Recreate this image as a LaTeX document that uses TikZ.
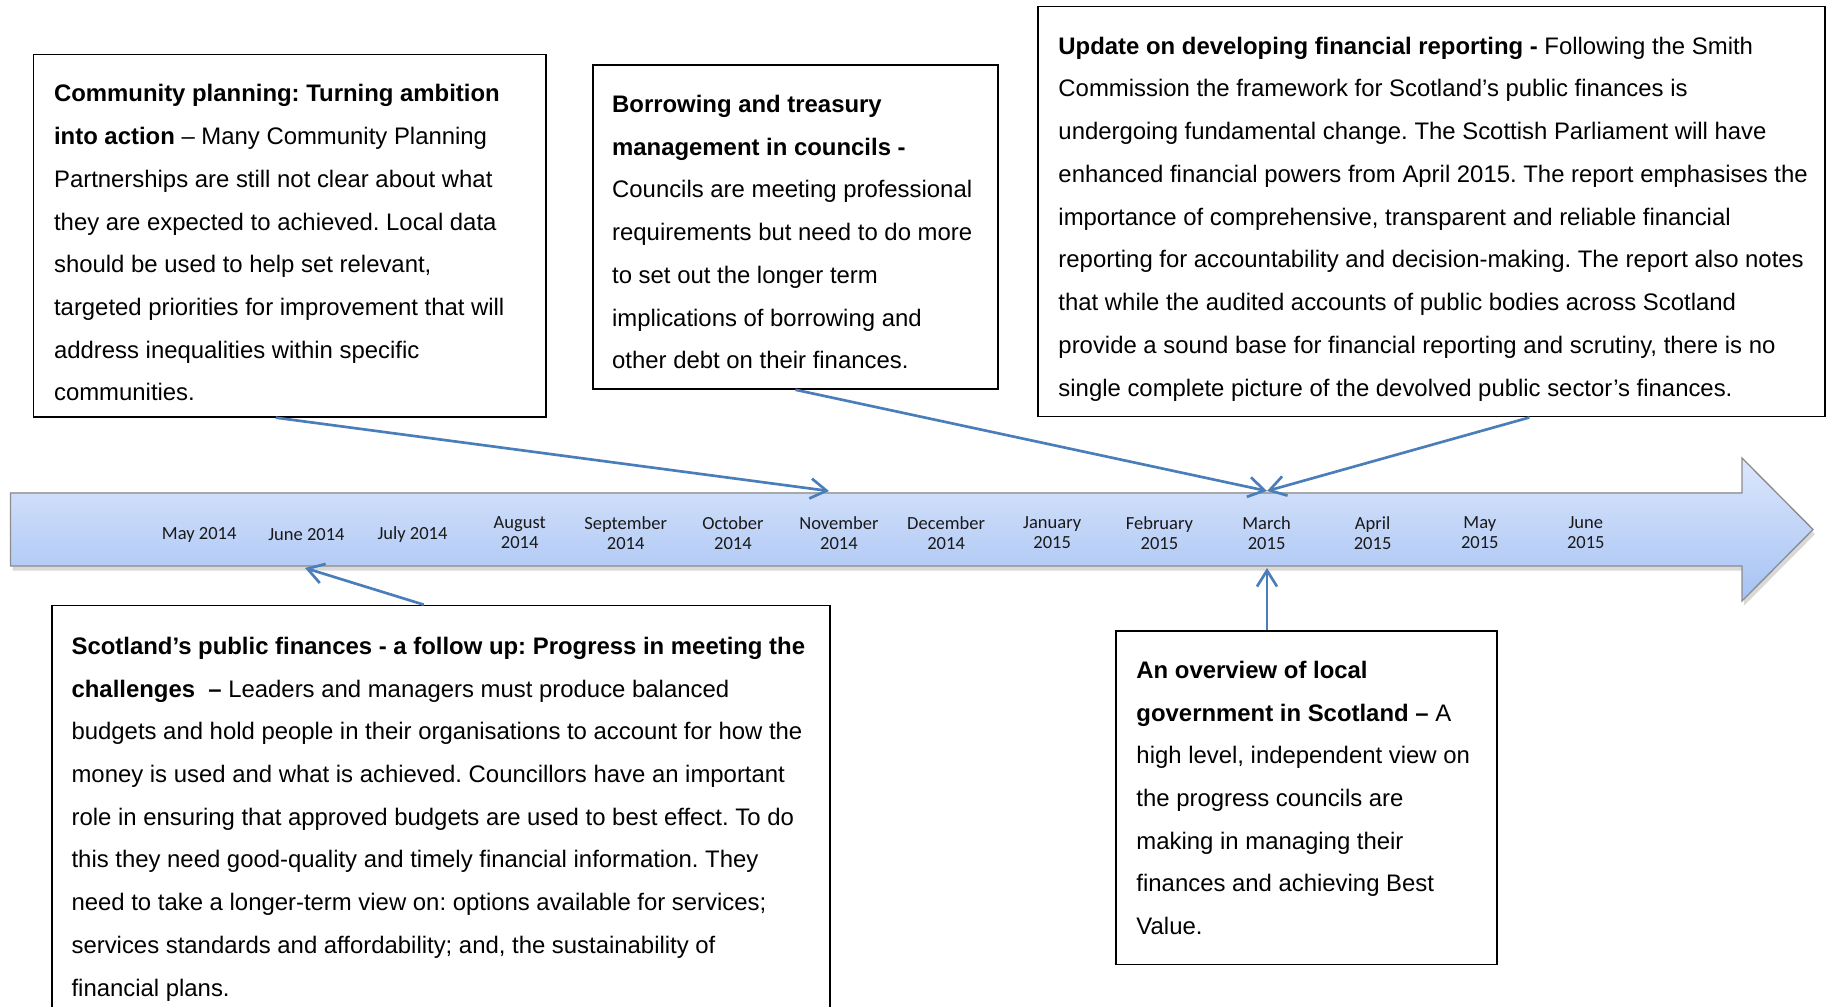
\documentclass[tikz,border=0pt]{standalone}
\usepackage{fontspec}
\setmainfont{Liberation Sans}
\newfontfamily\calib{Carlito}
\usetikzlibrary{arrows.meta,shadows}
\frenchspacing

\definecolor{tlTop}{HTML}{DCE7FB}
\definecolor{tlBot}{HTML}{A6C2F4}
\definecolor{tlEdge}{HTML}{8C8C8C}
\definecolor{lnBlue}{HTML}{4A7EBB}

\begin{document}
\begin{tikzpicture}[x=0.15mm,y=-0.15mm,
    box/.style={draw=black, line width=0.25mm, anchor=north west, inner sep=0pt},
    txt/.style={anchor=north west, inner sep=0pt, align=left, font=\fontsize{10.2}{18.24}\selectfont},
    month/.style={align=center, inner sep=0pt, text=black!90, font=\calib\fontsize{7.9}{8.45}\selectfont},
    link/.style={draw=lnBlue, line width=0.4mm, -{Straight Barb[length=2.4mm,width=3mm]}}]
    \useasboundingbox (0,0) rectangle (1827,1007);

    % the timeline
    \filldraw[top color=tlTop, bottom color=tlBot, draw=tlEdge, line width=0.2mm,
        drop shadow={shadow xshift=0.3mm, shadow yshift=-0.7mm, opacity=0.3}]
        (10.5,493) -- (1742,493) -- (1742,458) -- (1813,529.5) -- (1742,601)
        -- (1742,566) -- (10.5,566) -- cycle;

    \node[month] (m1) at (199.2,535) {May 2014};
    \node[month] (m2) at (306.4,535) {June 2014};
    \node[month] (m3) at (412.5,535) {July 2014};
    \node[month] (m4) at (519.7,533) {August\\2014};
    \node[month] (m5) at (625.7,533) {September\\2014};
    \node[month] (m6) at (732.9,533) {October\\2014};
    \node[month] (m7) at (838.9,533) {November\\2014};
    \node[month] (m8) at (946.1,533) {December\\2014};
    \node[month] (m9) at (1052.2,533) {January\\2015};
    \node[month] (m10) at (1159.4,533) {February\\2015};
    \node[month] (m11) at (1266.6,533) {March\\2015};
    \node[month] (m12) at (1372.6,533) {April\\2015};
    \node[month] (m13) at (1479.8,533) {May\\2015};
    \node[month] (m14) at (1585.8,533) {June\\2015};

    \coordinate (nov top) at (829,491);
    \coordinate (mar top) at (1267,491);
    \coordinate (jun bot) at (305,568);
    \coordinate (mar bot) at (1267,568);

    % report boxes
    \node[box, minimum width=76.9mm, minimum height=54.36mm] (cp) at (32.6,53.6) {};
    \node[txt] (cp text) at (53.6,84) {\textbf{Community planning: Turning ambition}\\
        \textbf{into action} – Many Community Planning\\
        Partnerships are still not clear about what\\
        they are expected to achieved. Local data\\
        should be used to help set relevant,\\
        targeted priorities for improvement that will\\
        address inequalities within specific\\
        communities.};

    \node[box, minimum width=60.8mm, minimum height=48.6mm] (bt) at (591.9,64.1) {};
    \node[txt] (bt text) at (611.7,94.7) {\textbf{Borrowing and treasury}\\
        \textbf{management in councils -}\\
        Councils are meeting professional\\
        requirements but need to do more\\
        to set out the longer term\\
        implications of borrowing and\\
        other debt on their finances.};

    \node[box, minimum width=118.05mm, minimum height=61.5mm] (up) at (1037,5.8) {};
    \node[txt] (up text) at (1058,36.4) {\textbf{Update on developing financial reporting -} Following the Smith\\
        Commission the framework for Scotland’s public finances is\\
        undergoing fundamental change. The Scottish Parliament will have\\
        enhanced financial powers from April 2015. The report emphasises the\\
        importance of comprehensive, transparent and reliable financial\\
        reporting for accountability and decision-making. The report also notes\\
        that while the audited accounts of public bodies across Scotland\\
        provide a sound base for financial reporting and scrutiny, there is no\\
        single complete picture of the devolved public sector’s finances.};

    \node[box, minimum width=116.7mm, minimum height=63.8mm] (sp) at (51.3,604.7) {};
    \node[txt] (sp text) at (71.1,636.5) {\textbf{Scotland’s public finances - a follow up: Progress in meeting the}\\
        \textbf{challenges\ \ –} Leaders and managers must produce balanced\\
        budgets and hold people in their organisations to account for how the\\
        money is used and what is achieved. Councillors have an important\\
        role in ensuring that approved budgets are used to best effect. To do\\
        this they need good-quality and timely financial information. They\\
        need to take a longer-term view on: options available for services;\\
        services standards and affordability; and, the sustainability of\\
        financial plans.};

    \node[box, minimum width=57.15mm, minimum height=50mm] (ov) at (1115,630.4) {};
    \node[txt] (ov text) at (1136,660.5) {\textbf{An overview of local}\\
        \textbf{government in Scotland –} A\\
        high level, independent view on\\
        the progress councils are\\
        making in managing their\\
        finances and achieving Best\\
        Value.};

    % links to the timeline
    \draw[link] ([xshift=-2.1mm]cp.south) -- (nov top);
    \draw[link] (bt.south) -- (mar top);
    \draw[link] ([xshift=14.7mm]up.south) -- (mar top);
    \draw[link] ([xshift=-2.6mm]sp.north) -- (jun bot);
    \draw[link] (ov.north -| mar bot) -- (mar bot);
\end{tikzpicture}
\end{document}
